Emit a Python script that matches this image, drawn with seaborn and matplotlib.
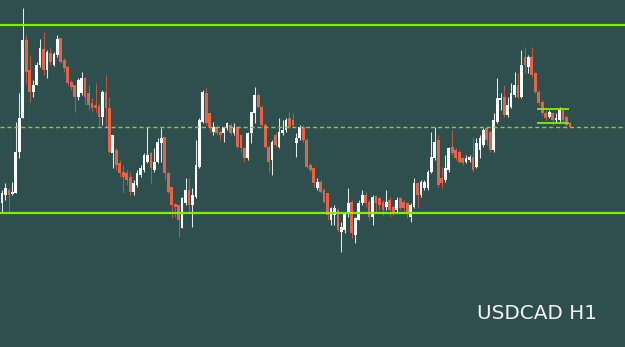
import numpy as np
import pandas as pd
import seaborn as sns
import matplotlib
matplotlib.use("Agg")
import matplotlib.pyplot as plt

# ---- data: USDCAD H1 candles, in pips above 1.3000 ----
BASE = 1.3000
PIP = 0.0001

opens = [57, 65, 70, 66, 67, 108, 142, 220, 190, 168, 175, 195, 211, 190, 207, 195, 205, 222, 200, 193,
         178, 175, 163, 167, 182, 167, 157, 155, 154, 143, 168, 152, 107, 110, 97, 88, 87, 83, 68, 75,
         85, 90, 98, 107, 90, 98, 117, 123, 87, 73, 56, 55, 32, 57, 70, 55, 63, 93, 138, 167,
         147, 128, 133, 128, 127, 132, 135, 127, 133, 125, 112, 102, 127, 147, 165, 153, 135, 113, 100, 125,
         113, 127, 130, 142, 140, 117, 122, 133, 120, 95, 92, 72, 78, 70, 67, 40, 45, 50, 28, 30,
         47, 58, 25, 40, 57, 65, 58, 43, 64, 62, 58, 53, 60, 53, 50, 62, 58, 57, 43, 53,
         77, 65, 72, 72, 88, 102, 120, 82, 80, 90, 113, 110, 108, 102, 98, 100, 103, 93, 110, 115,
         132, 128, 110, 138, 160, 163, 145, 153, 165, 175, 163, 203, 193, 203, 187, 168, 158, 147, 143, 147,
         140, 140, 150, 143, 137]
highs = [70, 77, 72, 78, 138, 167, 252, 225, 205, 180, 198, 221, 228, 210, 212, 208, 225, 222, 202, 195,
         180, 175, 182, 188, 183, 175, 162, 177, 157, 170, 185, 163, 125, 112, 100, 95, 90, 88, 80, 90,
         95, 107, 133, 108, 112, 122, 132, 123, 88, 73, 57, 55, 63, 82, 82, 72, 120, 142, 170, 173,
         147, 138, 135, 130, 133, 138, 137, 137, 133, 125, 113, 128, 148, 173, 167, 155, 137, 115, 120, 127,
         142, 140, 142, 148, 147, 127, 135, 135, 122, 97, 93, 82, 80, 72, 67, 53, 55, 52, 38, 48,
         72, 60, 43, 60, 70, 68, 60, 65, 65, 63, 60, 70, 63, 55, 63, 63, 60, 58, 57, 82,
         78, 80, 80, 90, 128, 133, 125, 93, 105, 113, 130, 112, 110, 103, 105, 105, 122, 122, 125, 132,
         133, 130, 147, 182, 167, 175, 163, 177, 188, 187, 210, 213, 205, 213, 188, 170, 160, 150, 150, 148,
         147, 153, 152, 145, 138]
lows = [48, 60, 48, 65, 67, 102, 142, 177, 158, 163, 175, 193, 185, 182, 195, 194, 203, 197, 188, 175,
        170, 148, 160, 165, 155, 150, 148, 148, 133, 135, 133, 107, 92, 90, 83, 67, 75, 65, 65, 73,
        83, 88, 97, 77, 88, 97, 98, 80, 67, 42, 43, 23, 32, 55, 47, 33, 62, 92, 137, 135,
        128, 125, 125, 120, 118, 130, 125, 125, 112, 108, 98, 100, 117, 137, 152, 133, 112, 88, 85, 113,
        112, 125, 128, 132, 133, 103, 120, 118, 92, 88, 73, 70, 67, 57, 40, 35, 35, 28, 8, 27,
        43, 22, 17, 40, 55, 53, 40, 35, 48, 50, 45, 50, 43, 45, 47, 50, 48, 42, 38, 52,
        52, 63, 70, 70, 87, 100, 73, 72, 78, 88, 105, 100, 97, 95, 97, 98, 88, 92, 102, 113,
        115, 108, 108, 137, 150, 143, 143, 152, 163, 162, 162, 187, 187, 183, 167, 155, 145, 140, 142, 135,
        138, 138, 137, 132, 132]
closes = [67, 72, 65, 68, 108, 142, 220, 188, 168, 175, 195, 212, 190, 208, 198, 206, 221, 198, 192, 177,
          173, 163, 180, 182, 163, 155, 152, 152, 143, 168, 152, 108, 125, 95, 87, 83, 80, 68, 77, 87,
          92, 105, 105, 92, 98, 118, 122, 87, 68, 55, 53, 40, 62, 70, 55, 65, 95, 140, 168, 137,
          133, 133, 127, 125, 133, 137, 127, 132, 113, 112, 102, 127, 148, 165, 153, 135, 113, 98, 118, 115,
          128, 130, 140, 133, 135, 122, 133, 120, 93, 90, 77, 78, 68, 58, 45, 52, 52, 30, 33, 47,
          57, 27, 42, 57, 65, 57, 43, 63, 57, 55, 50, 58, 50, 47, 60, 52, 52, 47, 55, 77,
          65, 78, 78, 88, 103, 118, 75, 77, 92, 112, 107, 102, 98, 97, 102, 103, 90, 117, 122, 130,
          120, 110, 140, 162, 162, 145, 155, 167, 175, 163, 195, 195, 203, 185, 168, 157, 147, 142, 148, 140,
          142, 150, 140, 135, 133]

# key levels (pips above base)
resistance = 235
support = 47
pivot = 133.3
range_top = 151.3
range_bottom = 137
range_start, range_end = 154.5, 163.7   # candle index span of the small range box

symbol_label = "USDCAD H1"

df = pd.DataFrame({
    "open": BASE + np.array(opens) * PIP,
    "high": BASE + np.array(highs) * PIP,
    "low": BASE + np.array(lows) * PIP,
    "close": BASE + np.array(closes) * PIP,
})
df["idx"] = np.arange(len(df))
df["bull"] = df["close"] >= df["open"]

BG = "#2F4F4F"
BULL = "#FFFFFF"
BEAR = "#E2654A"
BULL_WICK = "#E6E6E6"
BEAR_WICK = "#B9573F"
GREEN = "#7FF000"
DASH_GREEN = "#8DC83A"

sns.set_theme(style="dark", rc={"axes.facecolor": BG, "figure.facecolor": BG})

fig = plt.figure(figsize=(6.25, 3.47), dpi=100)
ax = fig.add_axes([0, 0, 1, 1])
ax.set_facecolor(BG)

bull = df[df["bull"]]
bear = df[~df["bull"]]

ax.vlines(bull["idx"], bull["low"], bull["high"], color=BULL_WICK, lw=0.75, zorder=2)
ax.vlines(bear["idx"], bear["low"], bear["high"], color=BEAR_WICK, lw=0.75, zorder=2)

def body(sub, color):
    bottom = np.minimum(sub["open"], sub["close"])
    height = np.maximum(np.abs(sub["close"] - sub["open"]), 0.6 * PIP)
    ax.bar(sub["idx"], height, bottom=bottom, width=0.8, color=color,
           edgecolor="none", linewidth=0, zorder=3)

body(bull, BULL)
body(bear, BEAR)

# horizontal levels
ax.axhline(BASE + resistance * PIP, color=GREEN, lw=1.6, zorder=5)
ax.axhline(BASE + support * PIP, color=GREEN, lw=1.6, zorder=5)
ax.axhline(BASE + pivot * PIP, color=DASH_GREEN, lw=1.0, ls=(0, (3, 2)), zorder=5)
ax.hlines([BASE + range_top * PIP, BASE + range_bottom * PIP], range_start, range_end,
          color=GREEN, lw=1.3, zorder=5)

# axis scaling: map price range onto the figure
spacing_px = 3.463
x0_px = 2.0
ax.set_xlim(-x0_px / spacing_px, (625 - x0_px) / spacing_px)
ax.set_ylim(BASE + (260 - 347) * PIP, BASE + 260 * PIP)

ax.set_xticks([])
ax.set_yticks([])
for s in ax.spines.values():
    s.set_visible(False)
ax.grid(False)

ax.text(0.763, 0.0965, symbol_label, transform=ax.transAxes, ha="left", va="center",
        color="#F2F2F2", fontsize=14.4, family=["DejaVu Sans"])

fig.savefig("out.png", dpi=100, facecolor=BG)
